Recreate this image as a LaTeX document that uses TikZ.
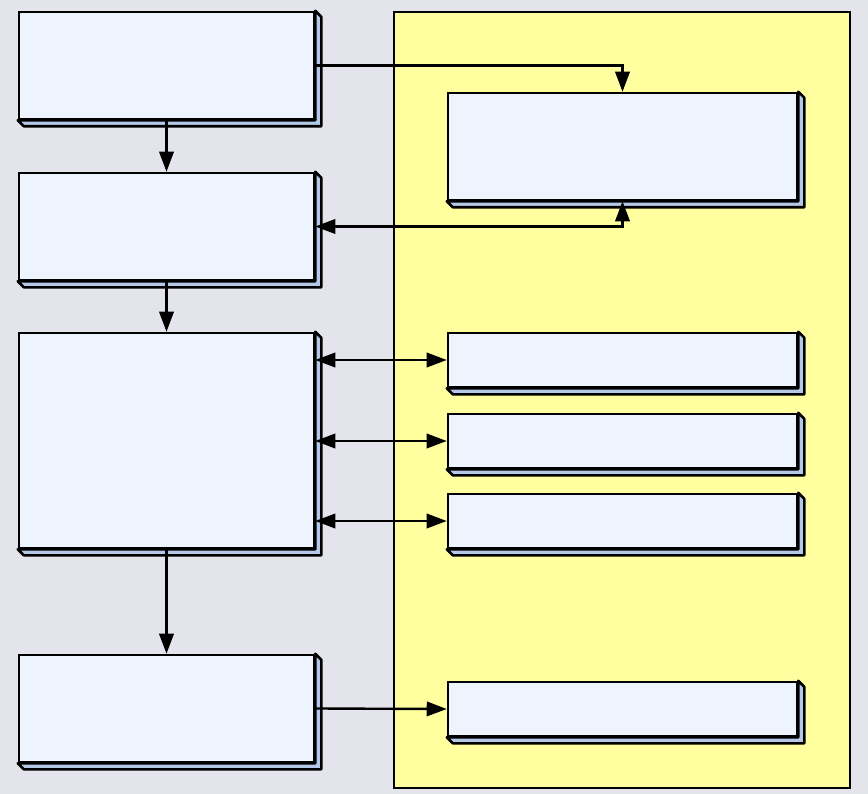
\documentclass[tikz,border=0pt]{standalone}
\usepackage{tikz}
\usetikzlibrary{arrows.meta,calc,fit}
\definecolor{slidebg}{RGB}{228,229,236}
\definecolor{panelfill}{RGB}{255,255,160}
\definecolor{boxface}{RGB}{238,244,254}
\definecolor{boxside}{RGB}{180,200,232}

\begin{document}
\begin{tikzpicture}[x=0.025cm,y=-0.025cm,
	blk/.style={draw,fill=boxface,line width=1.8pt,inner sep=0pt},
	bevel/.style={draw,fill=boxside,line width=1.8pt,line join=round},
	panel/.style={draw,fill=panelfill,line width=1.8pt,inner sep=0pt},
	link/.style={line width=1.7pt,>={Triangle[length=0.5cm,width=0.36cm]}}]
	\fill[slidebg] (0,0) rectangle (868,794);
	\useasboundingbox (0,0) rectangle (868,794);

	\node[panel,fit={(394,12) (850,788)}] (grp) {};

	\node[blk,fit={(19,12) (314,119)}] (src) {};
	\node[blk,fit={(19,173) (314,280)}] (prep) {};
	\node[blk,fit={(19,333) (314,548)}] (core) {};
	\node[blk,fit={(19,655) (314,762)}] (sink) {};

	\node[blk,fit={(448,93) (797,200)}] (ctl) {};
	\node[blk,fit={(448,333) (797,387)}] (ioa) {};
	\node[blk,fit={(448,414) (797,468)}] (iob) {};
	\node[blk,fit={(448,494) (797,548)}] (ioc) {};
	\node[blk,fit={(448,682) (797,736)}] (log) {};

	% 3d edges
	\foreach \n in {src,prep,core,sink,ctl,ioa,iob,ioc,log}
		\draw[bevel] (\n.north east) -- ++(6,6) -- ($(\n.south east)+(6,6)$) -- ($(\n.south west)+(6,6)$) -- (\n.south west) -- (\n.south east) -- cycle;

	\draw[link,->] (src.south) -- (prep.north);
	\draw[link,->] (prep.south) -- (core.north);
	\draw[link,->] (core.south) -- (sink.north);
	\draw[link,->] (src.east) -| (ctl.north);
	\draw[link,<->] (prep.east) -| (ctl.south);
	\foreach \n in {ioa,iob,ioc}
		\draw[link,<->] (core.east |- \n.west) -- (\n.west);
	\draw[link,->] (sink.east) -- (log.west);
\end{tikzpicture}
\end{document}
